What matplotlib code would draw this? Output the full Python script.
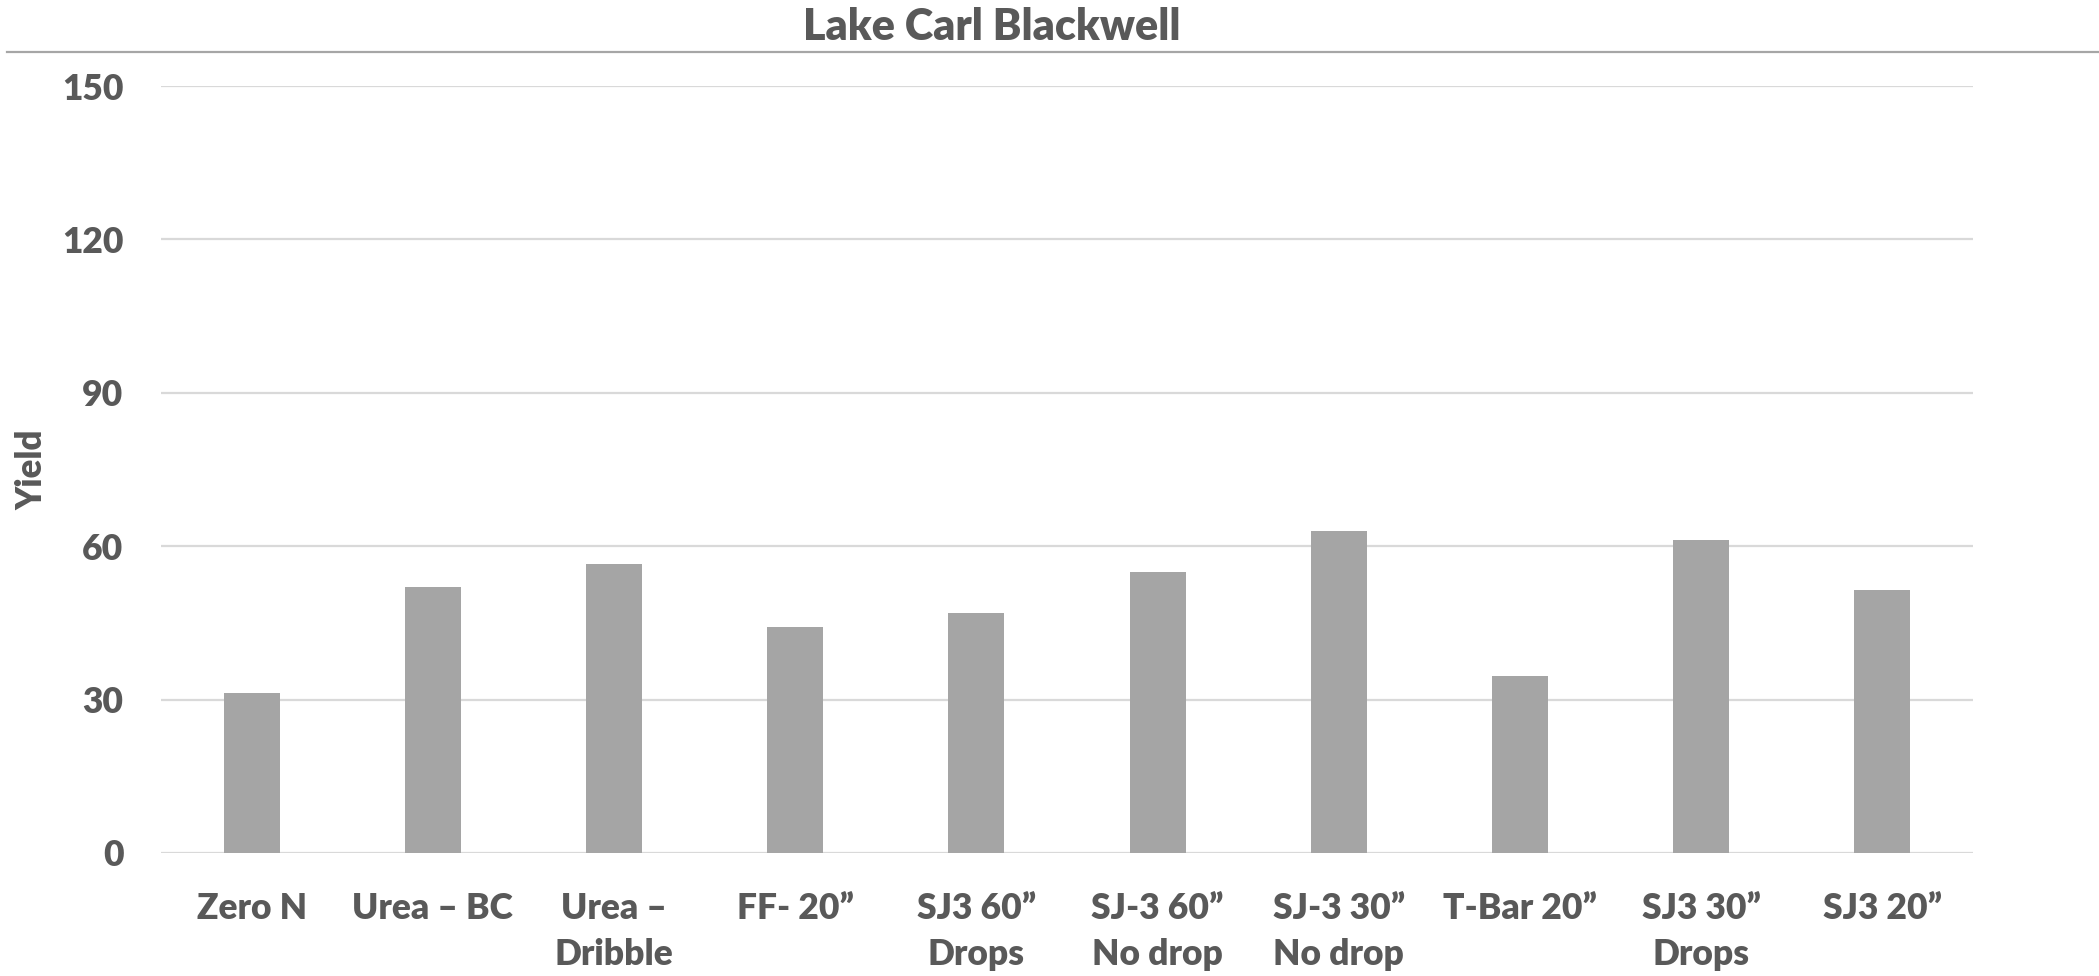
import matplotlib.pyplot as plt
from matplotlib.lines import Line2D

categories = ["Zero N", "Urea – BC", "Urea –\nDribble", "FF- 20”", "SJ3 60”\nDrops",
              "SJ-3 60”\nNo drop", "SJ-3 30”\nNo drop", "T-Bar 20”", "SJ3 30”\nDrops", "SJ3 20”"]
yield_vals = [31.2, 52.0, 56.6, 44.2, 46.9, 55.0, 62.9, 34.7, 61.3, 51.5]
yticks = [0, 30, 60, 90, 120, 150]

plt.rcParams['font.family'] = ['Lato', 'DejaVu Sans']
text_color = '#595959'

fig = plt.figure(figsize=(20.99, 9.76), dpi=100)
ax = fig.add_axes([161 / 2099, 1 - 853 / 976, (1973 - 161) / 2099, (853 - 86) / 976])

x = range(len(categories))
ax.bar(x, yield_vals, width=0.31, color='#a5a5a5', zorder=2)

ax.set_xlim(-0.5, len(categories) - 0.5)
ax.set_ylim(0, 150)
ax.set_yticks(yticks)
ax.set_xticks(list(x))
ax.set_xticklabels(categories, fontsize=25.5, fontweight='heavy', color=text_color, linespacing=1.5)
ax.tick_params(axis='x', length=0, pad=28)
ax.tick_params(axis='y', length=0, pad=27, labelsize=25.5, labelcolor=text_color)
for lbl in ax.get_yticklabels():
    lbl.set_fontweight('heavy')

ax.grid(axis='y', color='#d9d9d9', linewidth=1.6, zorder=0)
for s in ax.spines.values():
    s.set_visible(False)

ax.set_ylabel("Yield", fontsize=25, fontweight='heavy', color=text_color)
ax.yaxis.set_label_coords(-0.062, 0.5)

fig.text(992 / 2099, 1 - 27 / 976, "Lake Carl Blackwell", ha='center', va='center',
         fontsize=31, fontweight='heavy', color=text_color)
fig.add_artist(Line2D([7 / 2099, 1], [1 - 52 / 976, 1 - 52 / 976], color='#a6a6a6', linewidth=1.6))

fig.savefig('out.png', dpi=100)
